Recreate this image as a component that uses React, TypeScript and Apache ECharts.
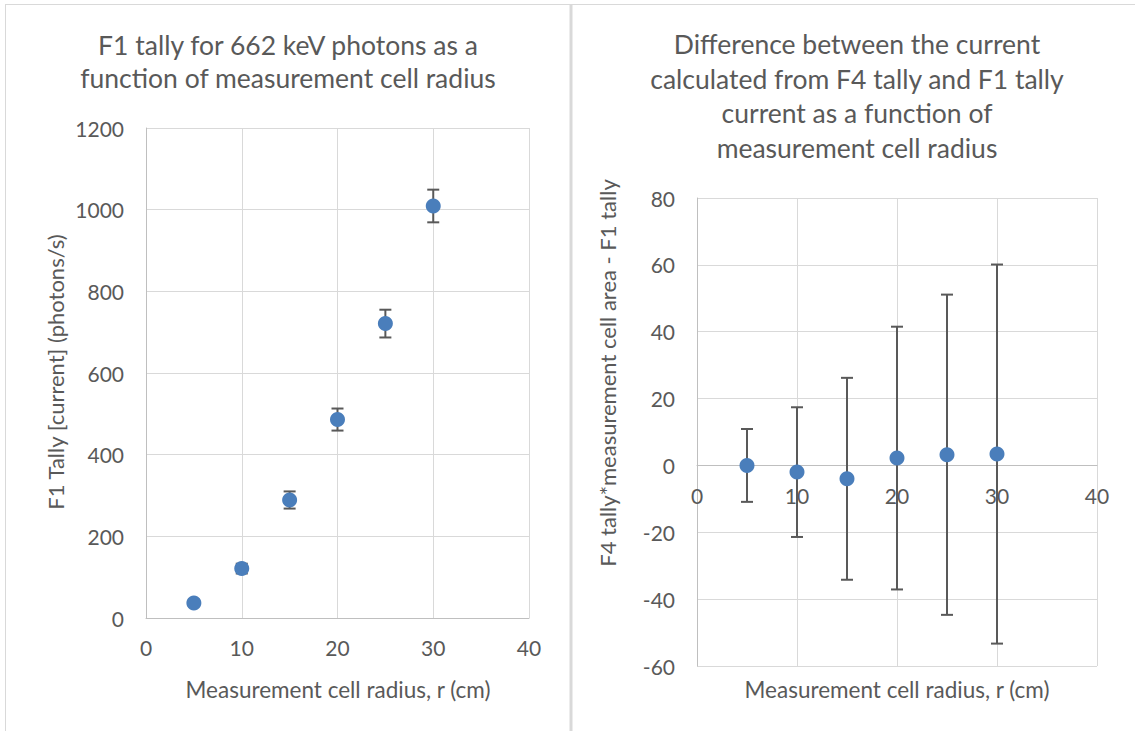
import React, { useEffect, useRef } from "react";
import * as echarts from "echarts";

const radius = [5, 10, 15, 20, 25, 30];
const f1Current = [37, 121, 289, 486, 721, 1009];
const f1Error = [8, 12, 21, 27, 34, 40];
const diffValues = [0, -2.0, -4.0, 2.2, 3.2, 3.4];
const diffError = [10.9, 19.4, 30.2, 39.3, 47.9, 56.7];

const leftTitle = "F1 tally for 662 keV photons as a\nfunction of measurement cell radius";
const rightTitle =
  "Difference between the current\ncalculated from F4 tally and F1 tally\ncurrent as a function of\nmeasurement cell radius";
const xName = "Measurement cell radius, r (cm)";
const leftYName = "F1 Tally [current] (photons/s)";
const rightYName = "F4 tally*measurement cell area - F1 tally";

const rightYMin = -60;
const rightYMax = 80;
const rightGridHeight = 468;

const FONT = "Lato, 'Open Sans', sans-serif";
const TEXT = "#595959";
const GRID = "#d9d9d9";
const AXIS = "#bfbfbf";
const BLUE = "#4a7ebb";
const ERR = "#595959";

function errorRender(params: any, api: any) {
  const x = api.value(0);
  const lo = api.value(1);
  const hi = api.value(2);
  const pLo = api.coord([x, lo]);
  const pHi = api.coord([x, hi]);
  const cap = 6;
  const style = { stroke: ERR, lineWidth: 2 };
  return {
    type: "group",
    children: [
      { type: "line", shape: { x1: pLo[0], y1: pLo[1], x2: pHi[0], y2: pHi[1] }, style },
      { type: "line", shape: { x1: pLo[0] - cap, y1: pLo[1], x2: pLo[0] + cap, y2: pLo[1] }, style },
      { type: "line", shape: { x1: pHi[0] - cap, y1: pHi[1], x2: pHi[0] + cap, y2: pHi[1] }, style },
    ],
  };
}

function txt(text: string, x: number, y: number, size: number, rot = 0, lh = 0) {
  return {
    type: "text",
    x,
    y,
    rotation: rot,
    style: {
      text,
      fill: TEXT,
      fontSize: size,
      fontFamily: FONT,
      align: "center",
      verticalAlign: "middle",
      textAlign: "center",
      textVerticalAlign: "middle",
      lineHeight: lh || undefined,
    },
  };
}

export default function App() {
  const ref = useRef<HTMLDivElement>(null);
  useEffect(() => {
    if (!ref.current) return;
    const chart = echarts.init(ref.current, null, { renderer: "svg" });
    const axisLabel = {
      color: TEXT,
      fontSize: 21,
      fontFamily: FONT,
      formatter: (v: number) => String(v),
    };
    const splitLine = { show: true, lineStyle: { color: GRID, width: 1 } };
    // place the right chart's x axis on the y = 0 line
    const zeroOffset = -((0 - rightYMin) / (rightYMax - rightYMin)) * rightGridHeight;
    chart.setOption({
      animation: false,
      backgroundColor: "#fff",
      grid: [
        { left: 146, top: 128, width: 383, height: 490 },
        { left: 697, top: 198, width: 400, height: rightGridHeight },
      ],
      xAxis: [
        {
          gridIndex: 0, type: "value", min: 0, max: 40, interval: 10,
          axisLine: { show: true, lineStyle: { color: AXIS } },
          axisTick: { show: false }, axisLabel: { ...axisLabel, margin: 19 }, splitLine,
        },
        {
          gridIndex: 1, type: "value", min: 0, max: 40, interval: 10, offset: zeroOffset,
          axisLine: { show: true, onZero: false, lineStyle: { color: AXIS } },
          axisTick: { show: false }, axisLabel: { ...axisLabel, margin: 20 }, splitLine,
        },
      ],
      yAxis: [
        {
          gridIndex: 0, type: "value", min: 0, max: 1200, interval: 200,
          axisLine: { show: true, lineStyle: { color: AXIS } },
          axisTick: { show: false }, axisLabel: { ...axisLabel, margin: 22 }, splitLine,
        },
        {
          gridIndex: 1, type: "value", min: rightYMin, max: rightYMax, interval: 20,
          axisLine: { show: true, onZero: false, lineStyle: { color: AXIS } },
          axisTick: { show: false }, axisLabel: { ...axisLabel, margin: 22 }, splitLine,
        },
      ],
      series: [
        {
          type: "custom", xAxisIndex: 0, yAxisIndex: 0, renderItem: errorRender,
          data: radius.map((r, i) => [r, f1Current[i] - f1Error[i], f1Current[i] + f1Error[i]]),
          z: 2,
        },
        {
          type: "scatter", xAxisIndex: 0, yAxisIndex: 0, symbolSize: 15,
          itemStyle: { color: BLUE, opacity: 1 },
          data: radius.map((r, i) => [r, f1Current[i]]), z: 3,
        },
        {
          type: "custom", xAxisIndex: 1, yAxisIndex: 1, renderItem: errorRender,
          data: radius.map((r, i) => [r, diffValues[i] - diffError[i], diffValues[i] + diffError[i]]),
          z: 2,
        },
        {
          type: "scatter", xAxisIndex: 1, yAxisIndex: 1, symbolSize: 15,
          itemStyle: { color: BLUE, opacity: 1 },
          data: radius.map((r, i) => [r, diffValues[i]]), z: 3,
        },
      ],
      graphic: [
        { type: "line", shape: { x1: 5, y1: 4.5, x2: 1135, y2: 4.5 }, style: { stroke: GRID, lineWidth: 1 } },
        { type: "line", shape: { x1: 5.5, y1: 4, x2: 5.5, y2: 731 }, style: { stroke: GRID, lineWidth: 1 } },
        { type: "line", shape: { x1: 571, y1: 4, x2: 571, y2: 731 }, style: { stroke: GRID, lineWidth: 3 } },
        txt(leftTitle, 288, 61, 26.5, 0, 33),
        txt(rightTitle, 857, 96, 26.5, 0, 34.5),
        txt(xName, 338, 689, 22.5),
        txt(xName, 897, 689, 22.5),
        txt(leftYName, 55, 372, 22, Math.PI / 2),
        txt(rightYName, 607, 373, 22, Math.PI / 2),
      ],
    });
    return () => chart.dispose();
  }, []);
  return (
    <div
      ref={ref}
      style={{ position: "fixed", left: 0, top: 0, width: 1135, height: 731, background: "#fff" }}
    />
  );
}
